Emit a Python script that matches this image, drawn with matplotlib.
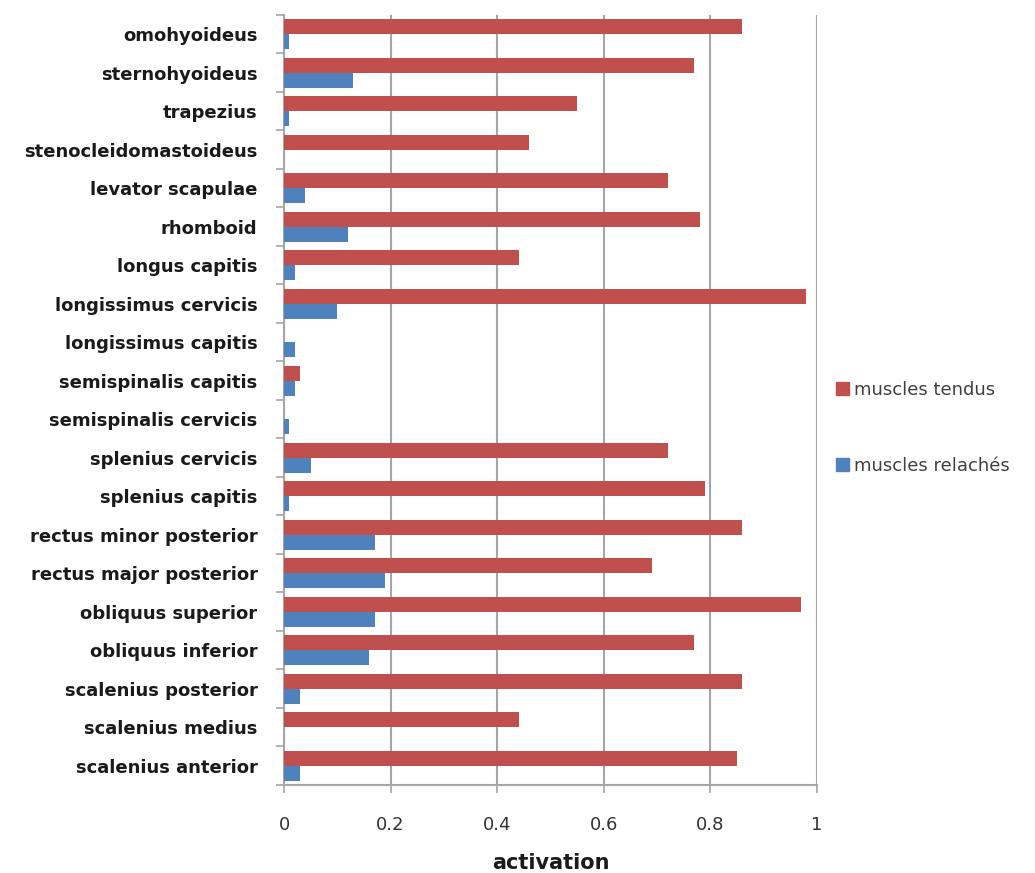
import numpy as np
import matplotlib
matplotlib.use('Agg')
import matplotlib.pyplot as plt
from matplotlib.patches import Patch

muscles = [
    'omohyoideus', 'sternohyoideus', 'trapezius', 'stenocleidomastoideus',
    'levator scapulae', 'rhomboid', 'longus capitis', 'longissimus cervicis',
    'longissimus capitis', 'semispinalis capitis', 'semispinalis cervicis',
    'splenius cervicis', 'splenius capitis', 'rectus minor posterior',
    'rectus major posterior', 'obliquus superior', 'obliquus inferior',
    'scalenius posterior', 'scalenius medius', 'scalenius anterior',
]
tendus = [0.86, 0.77, 0.55, 0.46, 0.72, 0.78, 0.44, 0.98, 0.0, 0.03,
          0.0, 0.72, 0.79, 0.86, 0.69, 0.97, 0.77, 0.86, 0.44, 0.85]
relaches = [0.01, 0.13, 0.01, 0.0, 0.04, 0.12, 0.02, 0.10, 0.02, 0.02,
            0.01, 0.05, 0.01, 0.17, 0.19, 0.17, 0.16, 0.03, 0.0, 0.03]

RED = '#C0504D'
BLUE = '#4F81BD'
GRID = '#A6A6A6'

plt.rcParams['font.family'] = ['DejaVu Sans']

fig = plt.figure(figsize=(10.35, 8.73), dpi=100)
ax = fig.add_axes([0.2744, 0.1008, 0.5150, 0.8822])

n = len(muscles)
y = np.arange(n)
h = 0.39
ax.barh(y - h / 2, tendus, height=h, color=RED, zorder=3)
ax.barh(y + h / 2, relaches, height=h, color=BLUE, zorder=3)

ax.set_ylim(n - 0.5, -0.5)
ax.set_xlim(0, 1)
ax.set_xticks(np.arange(0, 1.01, 0.2))
ax.set_xticklabels(['0', '0.2', '0.4', '0.6', '0.8', '1'], fontsize=13, color='#333333')
ax.xaxis.grid(True, color=GRID, linewidth=1.5, zorder=0)

ax.set_yticks(y)
ax.set_yticklabels(muscles, fontsize=13, fontweight='bold', color='#1a1a1a')
ax.tick_params(axis='y', which='major', length=0, pad=19)
ax.set_yticks(np.arange(-0.5, n, 1.0), minor=True)
ax.tick_params(axis='y', which='minor', length=6, color=GRID, width=1.2)
ax.tick_params(axis='x', length=6, color=GRID, width=1.2, pad=16)

for s in ['top', 'right']:
    ax.spines[s].set_visible(False)
for s in ['left', 'bottom']:
    ax.spines[s].set_color(GRID)
    ax.spines[s].set_linewidth(1.5)

ax.set_xlabel('activation', fontsize=15, fontweight='bold', labelpad=14, color='#1a1a1a')

handles = [Patch(color=RED, label='muscles tendus'),
           Patch(color=BLUE, label='muscles relachés')]
fig.legend(handles=handles, loc='center left', bbox_to_anchor=(0.792, 0.51),
           frameon=False, fontsize=13, handlelength=0.7, handleheight=0.7,
           handletextpad=0.3, labelspacing=3.2, labelcolor='#404040')

fig.savefig('out.png', dpi=100)
